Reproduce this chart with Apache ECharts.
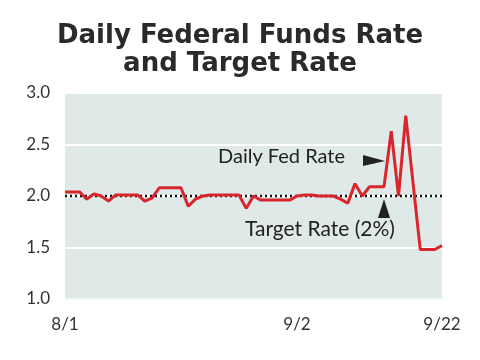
<!DOCTYPE html>
<html>
<head>
<meta charset="utf-8">
<script src="https://cdn.jsdelivr.net/npm/echarts@6/dist/echarts.min.js"></script>
<style>html,body{margin:0;padding:0;background:#fff}#c{width:480px;height:360px}</style>
</head>
<body>
<div id="c"></div>
<script>
// day index from 8/1 (calendar days), 0..52 = 8/1..9/22
var dayLabels = {0: '8/1', 32: '9/2', 52: '9/22'};
var dailyRate = [2.04, 2.04, 2.04, 1.97, 2.02, 2.00, 1.95, 2.01, 2.01, 2.01,
                 2.01, 1.95, 1.98, 2.08, 2.08, 2.08, 2.08, 1.90, 1.97, 2.00,
                 2.01, 2.01, 2.01, 2.01, 2.01, 1.88, 2.00, 1.96, 1.96, 1.96,
                 1.96, 1.96, 2.00, 2.01, 2.01, 2.00, 2.00, 2.00, 1.97, 1.93,
                 2.12, 2.00, 2.09, 2.09, 2.09, 2.63, 2.00, 2.78, 2.13, 1.48,
                 1.48, 1.48, 1.52];
var targetRate = 2.0;

var lineData = dailyRate.map(function (v, i) { return [i, v]; });
var targetData = [[0, targetRate], [dailyRate.length - 1, targetRate]];

var chart = echarts.init(document.getElementById('c'), null, {renderer: 'canvas'});
chart.setOption({
  animation: false,
  backgroundColor: '#ffffff',
  title: {
    text: 'Daily Federal Funds Rate\nand Target Rate',
    left: 'center', top: 17,
    textStyle: {fontFamily: 'DejaVu Sans', fontWeight: 'bold', fontSize: 26, lineHeight: 28, color: '#2a2a2a'}
  },
  grid: {
    left: 65, right: 38, top: 93, bottom: 61,
    show: true, backgroundColor: '#dfe9e7', borderWidth: 0
  },
  xAxis: {
    type: 'value', min: 0, max: dailyRate.length - 1,
    interval: 1,
    axisLine: {show: true, lineStyle: {color: '#f2f7f6', width: 2, type: [3, 2]}},
    axisTick: {show: false},
    splitLine: {show: false},
    axisLabel: {
      margin: 17, fontFamily: 'Lato', fontSize: 17, color: '#333',
      showMinLabel: true, showMaxLabel: true,
      formatter: function (v) { return dayLabels[v] || ''; }
    }
  },
  yAxis: {
    type: 'value', min: 1.0, max: 3.0, interval: 0.5,
    axisLine: {show: false},
    axisTick: {show: false},
    splitLine: {show: true, lineStyle: {color: '#ffffff', width: 2}},
    axisLabel: {
      margin: 15, fontFamily: 'Lato', fontSize: 17, color: '#333',
      formatter: function (v) { return v.toFixed(1); }
    }
  },
  series: [
    {
      type: 'line', data: targetData, symbol: 'none', z: 3,
      lineStyle: {color: '#111', width: 2.5, type: [2, 3]}
    },
    {
      type: 'line', data: lineData, symbol: 'none', z: 4,
      lineStyle: {color: '#d8262c', width: 3}
    }
  ],
  graphic: [
    {type: 'text', left: 218, top: 147, style: {text: 'Daily Fed Rate', font: '20px Lato', fill: '#222'}},
    {type: 'polygon', shape: {points: [[363, 155], [363, 166], [385, 161]]}, style: {fill: '#222'}},
    {type: 'text', left: 245, top: 219, style: {text: 'Target Rate (2%)', font: '21px Lato', fill: '#222'}},
    {type: 'polygon', shape: {points: [[378, 218], [390, 218], [384, 199]]}, style: {fill: '#222'}}
  ]
});
</script>
</body>
</html>
